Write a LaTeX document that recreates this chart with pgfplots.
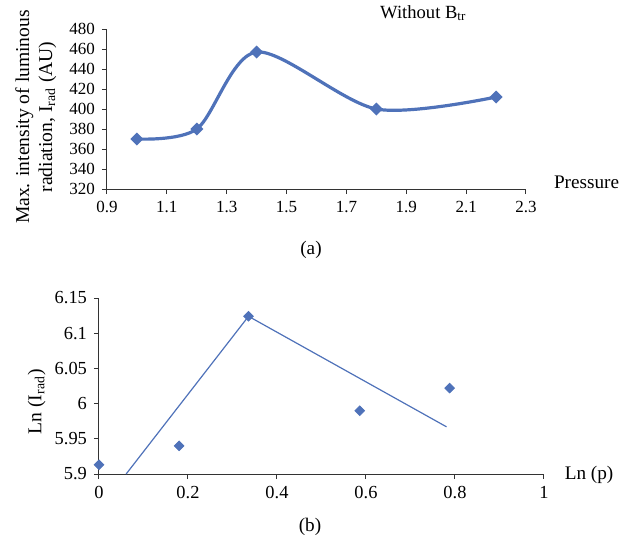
\documentclass[border=0pt]{standalone}
\usepackage{pgfplots}
\pgfplotsset{compat=1.18}
\usepackage{fontspec}
\setmainfont{Liberation Serif}
\definecolor{xlblue}{RGB}{79,114,185}

\begin{document}
\begin{tikzpicture}
% 1 px of the reference = 0.5pt
\path[use as bounding box] (0pt,0pt) rectangle (311.5pt,-271.5pt);
\pgfplotsset{
  every axis/.append style={
    scale only axis,
    axis lines=left,
    axis line style={-, black!80, line width=0.5pt},
    tick align=outside,
    major tick length=2.5pt,
    tick style={black!80, line width=0.5pt},
    /pgf/number format/assume math mode=true,
    clip=false,
    label style={font=\fontsize{9.8}{11.5}\selectfont},
  }
}
% (a) intensity vs pressure
\begin{axis}[
    at={(53.5pt,-94.5pt)}, anchor=south west,
    width=209.5pt, height=80pt,
    xmin=0.9, xmax=2.3, ymin=320, ymax=480,
    xtick={0.9,1.1,1.3,1.5,1.7,1.9,2.1,2.3},
    ytick={320,340,...,480},
    xticklabel style={font=\fontsize{8.5}{10}\selectfont},
    yticklabel style={font=\fontsize{8.5}{10}\selectfont},
    ylabel={Max. intensity of luminous\\radiation, I\textsubscript{rad} (AU)},
    ylabel style={align=center, at={(axis description cs:-0.17,0.45)}, anchor=center},
]
\addplot[xlblue, line width=1.6pt, smooth, mark=square*, mark size=1.5pt,
         mark options={rotate=45, solid}] coordinates {
    (1.0,370) (1.2,380) (1.4,457) (1.8,400) (2.2,412)
};
\node[anchor=west, font=\fontsize{9.6}{11}\selectfont] at (axis description cs:1.05,0.04) {Pressure};
\node[anchor=center, font=\fontsize{9.3}{11}\selectfont] at (axis description cs:0.755,1.1) {Without B\textsubscript{tr}};
\end{axis}
\node[font=\fontsize{9.6}{11}\selectfont] at (155.5pt,-125pt) {(a)};
% (b) log-log
\begin{axis}[
    at={(49.5pt,-237pt)}, anchor=south west,
    width=222.5pt, height=88pt,
    xmin=0, xmax=1, ymin=5.9, ymax=6.15,
    xtick={0,0.2,0.4,0.6,0.8,1},
    ytick={5.9,5.95,6,6.05,6.1,6.15},
    yticklabels={5.9,5.95,6,6.05,6.1,6.15},
    xticklabel style={font=\fontsize{9.2}{11}\selectfont},
    yticklabel style={font=\fontsize{9.2}{11}\selectfont},
    ylabel={Ln (I\textsubscript{rad})},
    ylabel style={at={(axis description cs:-0.14,0.41)}, anchor=center},
]
\addplot[only marks, xlblue, mark=square*, mark size=1.7pt, mark options={rotate=45}] coordinates {
    (0,5.913) (0.18,5.940) (0.336,6.124) (0.586,5.990) (0.788,6.022)
};
\addplot[xlblue, line width=0.6pt] coordinates {
    (0.061,5.9) (0.336,6.124) (0.781,5.967)
};
\node[anchor=west, font=\fontsize{9.6}{11}\selectfont] at (axis description cs:1.031,-0.005) {Ln (p)};
\end{axis}
\node[font=\fontsize{9.6}{11}\selectfont] at (155pt,-263.5pt) {(b)};
\end{tikzpicture}
\end{document}
